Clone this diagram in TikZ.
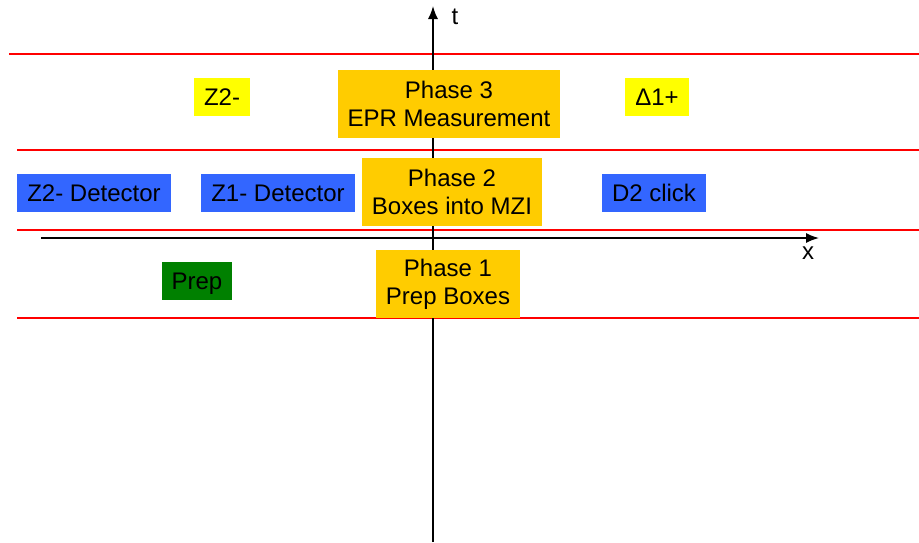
\documentclass[tikz,border=0pt]{standalone}
\usepackage{fontspec}
\usetikzlibrary{arrows.meta}
\setmainfont{Liberation Sans}
\definecolor{gold}{HTML}{FFCC00}
\definecolor{lemon}{HTML}{FFFF00}
\definecolor{detblue}{HTML}{3366FF}
\definecolor{prepgreen}{HTML}{008000}
\tikzset{
  box/.style={inner xsep=10pt, inner ysep=0pt, minimum height=38pt, align=center,
    font=\fontsize{24}{28}\selectfont},
  oneline/.style={box, text height=18pt, text depth=2pt},
  phase/.style={box, fill=gold, minimum height=68pt},
  sign/.style={oneline, fill=lemon},
  detector/.style={oneline, fill=detblue},
  prepbox/.style={oneline, fill=prepgreen},
  band/.style={red, line width=1.2pt},
  axis/.style={line width=1.5pt, -{Latex[length=13pt,width=10pt]}}
}
\begin{document}
\begin{tikzpicture}[x=1pt, y=-1pt]

   \useasboundingbox (0,0) rectangle (919,542);

   \draw[band] (9,54) -- (919,54);
   \draw[band] (17,150) -- (919,150);
   \draw[band] (17,230) -- (919,230);
   \draw[band] (17,318) -- (919,318);

   \coordinate (tlow) at (433,542);
   \coordinate (ttop) at (433,6);
   \coordinate (xleft) at (41,238);
   \coordinate (xright) at (819,238);
   \draw[axis] (tlow) -- (ttop);
   \draw[axis] (xleft) -- (xright);
   \node[font=\fontsize{24}{28}\selectfont] (tlabel) at (455,17) {t};
   \node[font=\fontsize{24}{28}\selectfont] (xlabel) at (808,253) {x};

   \node[phase] (phase3) at (449,104) {Phase 3\\EPR Measurement};
   \node[phase] (phase2) at (452,192) {Phase 2\\Boxes into MZI};
   \node[phase] (phase1) at (448,284) {Phase 1\\Prep Boxes};

   \node[sign] (zminus) at (222,97) {Z2-};
   \node[sign] (dplus) at (657,97) {Δ1+};

   \node[detector] (ztwodet) at (94,193) {Z2- Detector};
   \node[detector] (zonedet) at (278,193) {Z1- Detector};
   \node[detector] (dclick) at (654,193) {D2 click};

   \node[prepbox] (prep) at (197,281) {Prep};

\end{tikzpicture}
\end{document}
